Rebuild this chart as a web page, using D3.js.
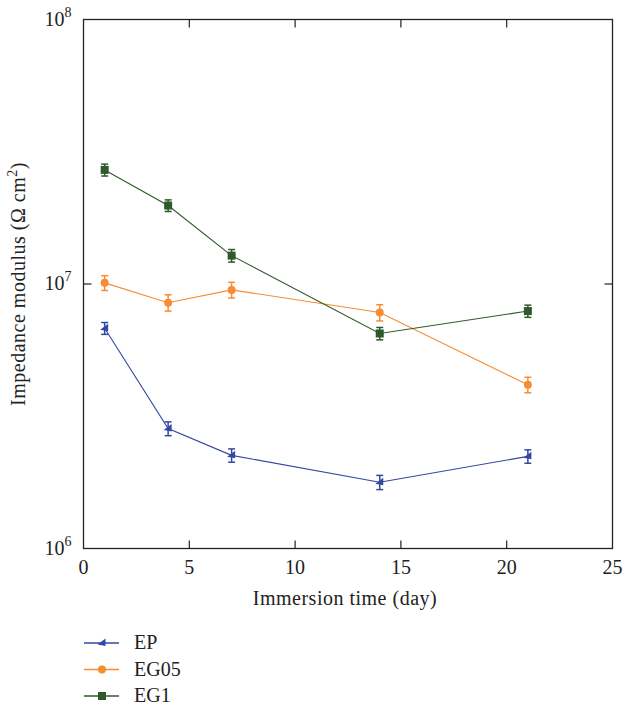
<!DOCTYPE html>
<html>
<head>
<meta charset="utf-8">
<script src="https://cdn.jsdelivr.net/npm/d3@7"></script>
<style>
  body { margin: 0; background: #fff; }
  text { font-family: "Liberation Serif", "DejaVu Serif", serif; fill: #222; }
</style>
</head>
<body>
<svg id="chart" width="625" height="707"></svg>
<script>
// Immersion times (days)
const days = [1, 4, 7, 14, 21];

// Impedance modulus (Ω cm²) per coating, with error half-widths
const epValues   = [6.8e6, 2.84e6, 2.25e6, 1.78e6, 2.23e6];
const epErrors   = [0.35e6, 0.17e6, 0.13e6, 0.11e6, 0.13e6];
const eg05Values = [1.01e7, 8.5e6, 9.5e6, 7.8e6, 4.16e6];
const eg05Errors = [0.65e6, 0.6e6, 0.65e6, 0.55e6, 0.28e6];
const eg1Values  = [2.7e7, 1.98e7, 1.28e7, 6.5e6, 7.9e6];
const eg1Errors  = [1.4e6, 1.0e6, 0.7e6, 0.35e6, 0.42e6];

const xTicks = [0, 5, 10, 15, 20, 25];
const yTicks = [1e6, 1e7, 1e8];
const yTickExponents = ["6", "7", "8"];

const seriesNames = ["EP", "EG05", "EG1"];
const seriesColors = ["#3447a3", "#f78c32", "#2f5a2c"];
const seriesShapes = ["triangle", "circle", "square"];

const series = seriesNames.map((name, i) => ({
  name,
  color: seriesColors[i],
  shape: seriesShapes[i],
  values: [epValues, eg05Values, eg1Values][i],
  errors: [epErrors, eg05Errors, eg1Errors][i]
}));

const svg = d3.select("#chart");
const plotL = 83.5, plotR = 612.5, plotT = 19.5, plotB = 548.5;

const x = d3.scaleLinear().domain([0, 25]).range([plotL, plotR]);
const y = d3.scaleLog().domain([1e6, 1e8]).range([plotB, plotT]);

// frame
svg.append("rect")
  .attr("x", plotL).attr("y", plotT)
  .attr("width", plotR - plotL).attr("height", plotB - plotT)
  .attr("fill", "none").attr("stroke", "#222").attr("stroke-width", 1.3);

// inward ticks on all four sides
const tickLen = 8;
const ax = svg.append("g").attr("stroke", "#222").attr("stroke-width", 1.2);
xTicks.slice(1, -1).forEach(t => {
  ax.append("line").attr("x1", x(t)).attr("x2", x(t)).attr("y1", plotB).attr("y2", plotB - tickLen);
  ax.append("line").attr("x1", x(t)).attr("x2", x(t)).attr("y1", plotT).attr("y2", plotT + tickLen);
});
yTicks.slice(1, -1).forEach(t => {
  ax.append("line").attr("x1", plotL).attr("x2", plotL + tickLen).attr("y1", y(t)).attr("y2", y(t));
  ax.append("line").attr("x1", plotR).attr("x2", plotR - tickLen).attr("y1", y(t)).attr("y2", y(t));
});

// x tick labels
svg.append("g").selectAll("text").data(xTicks).join("text")
  .attr("x", d => x(d)).attr("y", plotB + 25)
  .attr("text-anchor", "middle").attr("font-size", 20)
  .text(d => d);

// y tick labels as powers of ten
const yl = svg.append("g").selectAll("text").data(yTicks).join("text")
  .attr("x", plotL - 12).attr("y", d => y(d) + 6)
  .attr("text-anchor", "end").attr("font-size", 20);
yl.append("tspan").text("10");
yl.append("tspan").attr("font-size", 14).attr("dy", -9).text((d, i) => yTickExponents[i]);

// axis titles
svg.append("text")
  .attr("x", 345).attr("y", 605)
  .attr("text-anchor", "middle").attr("font-size", 20).attr("letter-spacing", 0.5)
  .text("Immersion time (day)");

const yt = svg.append("text")
  .attr("transform", `translate(25,${(plotT + plotB) / 2}) rotate(-90)`)
  .attr("text-anchor", "middle").attr("font-size", 20).attr("letter-spacing", 0.5);
yt.append("tspan").text("Impedance modulus (Ω cm");
yt.append("tspan").attr("font-size", 14).attr("dy", -8).text("2");
yt.append("tspan").attr("dy", 8).text(")");

function drawMarker(g, shape, color) {
  if (shape === "circle") {
    g.append("circle").attr("r", 4).attr("fill", color);
  } else if (shape === "square") {
    g.append("rect").attr("x", -4).attr("y", -4).attr("width", 8).attr("height", 8).attr("fill", color);
  } else {
    g.append("path").attr("d", "M-4.5,1.5L3.5,-4.5L3.5,3Z").attr("fill", color);
  }
}

const line = d3.line().x(d => x(d.day)).y(d => y(d.v));

series.forEach(s => {
  const pts = days.map((d, i) => ({ day: d, v: s.values[i], e: s.errors[i] }));
  const g = svg.append("g");
  g.append("path").datum(pts).attr("d", line)
    .attr("fill", "none").attr("stroke", s.color).attr("stroke-width", 1.1);
  pts.forEach(p => {
    const cx = x(p.day), y1 = y(p.v + p.e), y2 = y(p.v - p.e);
    const eb = g.append("g").attr("stroke", s.color).attr("stroke-width", 1.5);
    eb.append("line").attr("x1", cx).attr("x2", cx).attr("y1", y1).attr("y2", y2);
    eb.append("line").attr("x1", cx - 3.5).attr("x2", cx + 3.5).attr("y1", y1).attr("y2", y1);
    eb.append("line").attr("x1", cx - 3.5).attr("x2", cx + 3.5).attr("y1", y2).attr("y2", y2);
    drawMarker(g.append("g").attr("transform", `translate(${cx},${y(p.v)})`), s.shape, s.color);
  });
});

// legend
const lg = svg.append("g").selectAll("g").data(series).join("g")
  .attr("transform", (d, i) => `translate(84,${643 + i * 26.5})`);
lg.append("line").attr("x1", 0).attr("x2", 35).attr("y1", 0).attr("y2", 0)
  .attr("stroke", d => d.color).attr("stroke-width", 1.5);
lg.each(function (d) {
  drawMarker(d3.select(this).append("g").attr("transform", "translate(18,0)"), d.shape, d.color);
});
lg.append("text").attr("x", 50).attr("y", 6).attr("font-size", 20).text(d => d.name);
</script>
</body>
</html>
